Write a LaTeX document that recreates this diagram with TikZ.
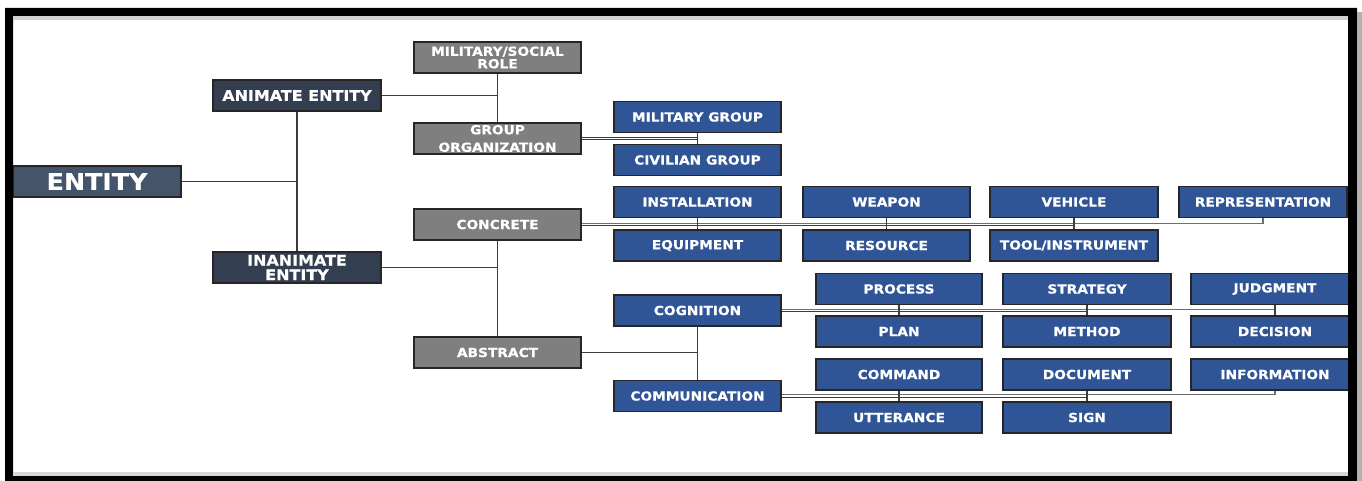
\documentclass[tikz,border=0pt]{standalone}
\usepackage{fontspec}
\newfontfamily\boxfont{DejaVu Sans}[FakeStretch=1.1, BoldFeatures={FakeBold=0.5}]
\definecolor{entityblue}{HTML}{44546A}
\definecolor{darkslate}{HTML}{333F50}
\definecolor{midgray}{HTML}{7F7F7F}
\definecolor{royal}{HTML}{2F5597}
\definecolor{linkgray}{HTML}{3C3C3C}
\definecolor{farlinkgray}{HTML}{6E6E6E}

\tikzset{
  box/.style={draw=black!85, line width=1.1pt, minimum width=168pt, minimum height=31pt,
    inner sep=0pt, text=white, align=center,
    font=\boxfont\bfseries\fontsize{12.5}{12.5}\selectfont},
  graybox/.style={box, fill=midgray, minimum width=167pt},
  bluebox/.style={box, fill=royal},
  topbox/.style={box, fill=darkslate, font=\boxfont\bfseries\fontsize{14.5}{14.5}\selectfont},
  link/.style={draw=linkgray, line width=1.2pt},
  farlink/.style={draw=farlinkgray, line width=1.2pt},
}

\begin{document}
\begin{tikzpicture}[x=1pt,y=-1pt]

\useasboundingbox (0,0) rectangle (1362,481);

% left part of the tree
\node[box, fill=entityblue, font=\boxfont\bfseries\fontsize{23}{24}\selectfont] (entity) at (97,181.5) {ENTITY};
\node[topbox] (animate) at (297,95.5) {ANIMATE ENTITY};
\node[topbox] (inanimate) at (297,267.5) {INANIMATE\\ENTITY};

\node[graybox] (role) at (497.5,57.5) {MILITARY/SOCIAL\\ROLE};
\node[graybox] (grouporg) at (497.5,138.5) {GROUP\\[5pt]ORGANIZATION};
\node[graybox] (concrete) at (497.5,224.5) {CONCRETE};
\node[graybox] (abstract) at (497.5,352.5) {ABSTRACT};

% groups
\node[bluebox, minimum width=167pt] (milgroup) at (697.5,117) {MILITARY GROUP};
\node[bluebox, minimum width=167pt] (civgroup) at (697.5,160) {CIVILIAN GROUP};

% concrete things
\node[bluebox, minimum width=167pt] (install) at (697.5,202) {INSTALLATION};
\node[bluebox, minimum width=167pt] (equip) at (697.5,245.5) {EQUIPMENT};
\node[bluebox, minimum width=167pt] (weapon) at (886.5,202) {WEAPON};
\node[bluebox, minimum width=167pt] (resource) at (886.5,245.5) {RESOURCE};
\node[bluebox] (vehicle) at (1074,202) {VEHICLE};
\node[bluebox] (tool) at (1074,245.5) {TOOL/INSTRUMENT};
\node[bluebox] (repres) at (1263,202) {REPRESENTATION};

% abstract things
\node[bluebox, minimum width=167pt] (cogn) at (697.5,310.5) {COGNITION};
\node[bluebox, minimum width=167pt] (comm) at (697.5,396) {COMMUNICATION};

\node[bluebox, minimum width=166pt] (process) at (899,289) {PROCESS};
\node[bluebox, minimum width=166pt] (plan) at (899,331.5) {PLAN};
\node[bluebox] (strategy) at (1087,289) {STRATEGY};
\node[bluebox] (method) at (1087,331.5) {METHOD};
\node[bluebox] (judgment) at (1275,289) {JUDGMENT};
\node[bluebox] (decision) at (1275,331.5) {DECISION};

\node[bluebox, minimum width=166pt] (command) at (899,374.5) {COMMAND};
\node[bluebox, minimum width=166pt] (utterance) at (899,417.5) {UTTERANCE};
\node[bluebox] (document) at (1087,374.5) {DOCUMENT};
\node[bluebox] (sign) at (1087,417.5) {SIGN};
\node[bluebox] (info) at (1275,374.5) {INFORMATION};

% connectors
\draw[link] (entity.east) -- (entity.east -| animate.south);
\draw[link] (animate.south) -- (inanimate.north);
\draw[link] (animate.east) -- (animate.east -| role.south);
\draw[link] (role.south) -- (grouporg.north);
\draw[link] (inanimate.east) -- (inanimate.east -| concrete.south);
\draw[link] (concrete.south) -- (abstract.north);
\draw[link] (abstract.east) -- (abstract.east -| cogn.south);
\draw[link] (cogn.south) -- (comm.north);

\foreach \s in {1.2,-1.2}
  \draw[link] ([yshift=\s pt]grouporg.east) -- ([yshift=\s pt]grouporg.east -| milgroup.south);
\draw[link] (milgroup.south) -- (civgroup.north);

\draw[link] ([yshift=-1.3pt]concrete.east) -- ([yshift=-1.3pt]concrete.east -| vehicle.south);
\draw[farlink] ([yshift=1.3pt]concrete.east) -| (repres.south);
\foreach \a/\b in {install/equip,weapon/resource,vehicle/tool}
  \draw[link] (\a.south) -- (\b.north);

\draw[link] ([yshift=-1.2pt]cogn.east) -- ([yshift=-1.2pt]cogn.east -| strategy.south);
\draw[farlink] ([yshift=1.2pt]cogn.east) -- ([yshift=1.2pt]cogn.east -| judgment.south);
\foreach \a/\b in {process/plan,strategy/method,judgment/decision}
  \draw[link] (\a.south) -- (\b.north);

\draw[link] ([yshift=-1.2pt]comm.east) -- ([yshift=-1.2pt]comm.east -| document.south);
\draw[farlink] ([yshift=1.2pt]comm.east) -| (info.south);
\foreach \a/\b in {command/utterance,document/sign}
  \draw[link] (\a.south) -- (\b.north);

% frame
\fill[black, even odd rule] (5,8) rectangle (1357,481) (13,16) rectangle (1348,476);
\fill[black!18] (13,16) rectangle (1348,20);
\fill[black!16] (13,471.5) rectangle (1348,476);
\fill[black!30] (1357,12) rectangle (1362,481);

\end{tikzpicture}
\end{document}
